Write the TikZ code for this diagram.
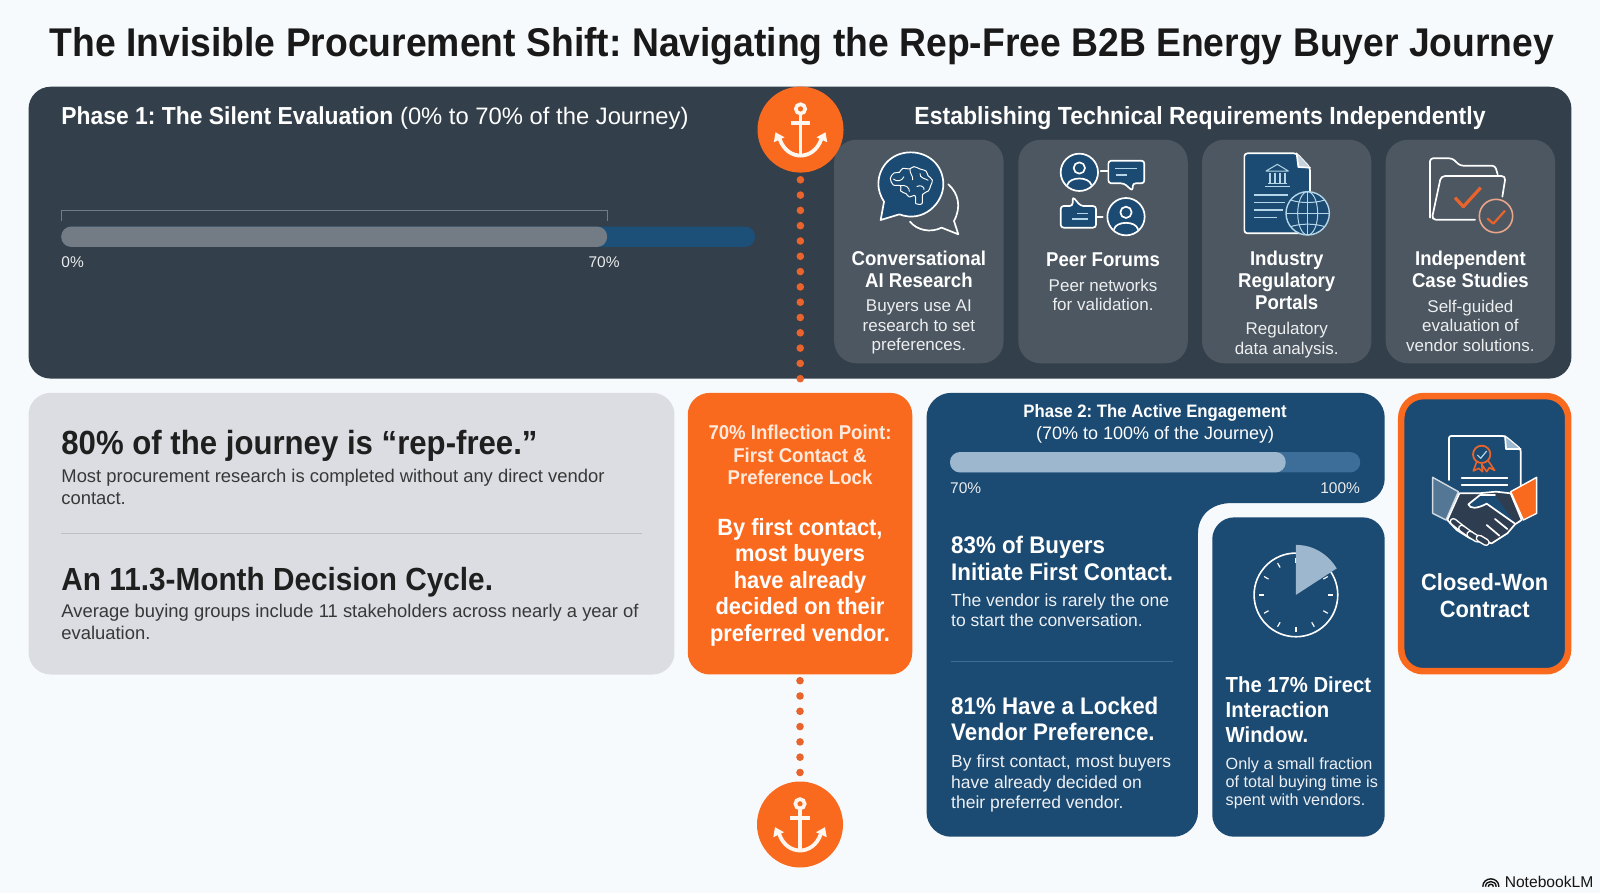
\documentclass[tikz,border=0pt]{standalone}
\usepackage{fontspec}
\setmainfont{Liberation Sans}[BoldFeatures={FakeStretch=0.93}]
\usepackage{tikz}
\usetikzlibrary{positioning}

\definecolor{pagebg}{HTML}{F7FAFC}
\definecolor{slatepanel}{HTML}{333F4A}
\definecolor{slatecard}{HTML}{4C5761}
\definecolor{navy}{HTML}{1B4A72}
\definecolor{barblue}{HTML}{1C5079}
\definecolor{bargrey}{HTML}{737C84}
\definecolor{greycard}{HTML}{DCDDE2}
\definecolor{flame}{HTML}{FA6A1E}
\definecolor{dotflame}{HTML}{E8642C}
\definecolor{barlight}{HTML}{9DB7CE}
\definecolor{bartrack}{HTML}{3C6E99}
\definecolor{iconsky}{HTML}{B4D6E8}
\definecolor{darkhand}{HTML}{2F3D50}
\definecolor{softflame}{HTML}{E9A58A}
\definecolor{cream}{HTML}{FFF7EF}

\newcommand{\fsz}[2]{\fontsize{#1}{#2}\selectfont}

\tikzset{
  panel/.style={rounded corners=22pt},
  txt/.style={inner sep=0pt, execute at begin node=\strut},
  headwhite/.style={txt, anchor=north west, align=left, text=white, font=\fsz{24}{26.5}\bfseries},
  subwhite/.style={txt, anchor=north west, align=left, text=white!92!navy, font=\fsz{17.5}{20.4}},
  cardhead/.style={txt, anchor=north, align=center, text=white, font=\fsz{20}{22}\bfseries},
  cardsub/.style={txt, anchor=north, align=center, text=white!90!slatecard, font=\fsz{17}{19.4}},
  bighead/.style={anchor=west, inner sep=0pt, text=black!88, font=\fsz{33.5}{40}\bfseries},
  bigsub/.style={txt, anchor=north west, align=left, text=black!78, font=\fsz{18.4}{22.4}},
  pct/.style={inner sep=0pt, text=white!90!slatepanel, font=\fsz{15.5}{18}},
  dotline/.style={dotflame, line width=7.6pt, line cap=round, dash pattern=on 0pt off 15.3pt},
  anchorcirc/.style={circle, fill=flame, inner sep=0pt, minimum size=86pt},
  zoomed/.style 2 args={xshift=#1pt, yshift=-#2pt, x=0.3333pt, y=-0.3333pt},
  iconline/.style={white, line width=1.7pt, line join=round, line cap=round},
  anchoricon/.pic={
    \begin{scope}[x=1pt,y=-1pt,cream]
      \draw[line width=3.6pt] (0,-20.7) circle (4.7);
      \draw[line width=3.4pt] (-9.7,-6.7) -- (9.7,-6.7);
      \draw[line width=3.8pt] (0,-15) -- (0,26);
      \draw[line width=3.8pt] (-21,9) .. controls (-17,21) and (-8,26) .. (0,26)
        .. controls (8,26) and (17,21) .. (21,9);
      \fill (-25,2.7) -- (-26.7,12.7) -- (-16,7.7) -- cycle;
      \fill (25,2.7) -- (26.7,12.7) -- (16,7.7) -- cycle;
    \end{scope}
  },
  personicon/.pic={
    \draw[iconline, fill=navy] (0,0) circle (56);
    \draw[iconline] (0,-13) circle (17);
    \draw[iconline] (-36,38) .. controls (-30,12) and (30,12) .. (36,38);
  }
}

\begin{document}
\frenchspacing
\begin{tikzpicture}[x=1.020408pt,y=-1.020408pt]
  \useasboundingbox (0,0) rectangle (1568,875.14);
  \fill[pagebg] (0,0) rectangle (1568,875.14);

  %title
  \node[inner sep=0pt, text=black!90, font=\fsz{40.1}{46}\bfseries] (title) at (786,45.5)
    {The Invisible Procurement Shift: Navigating the Rep-Free B2B Energy Buyer Journey};

  %phase 1
  \fill[slatepanel, panel] (28,85) rectangle (1540,371);
  \node[anchor=west, inner sep=0pt, text=white, font=\fsz{24.6}{28}] (phaseone) at (60,115.5)
    {\textbf{Phase 1: The Silent Evaluation} {\fsz{23.8}{28}(0\% to 70\% of the Journey)}};
  \node[inner sep=0pt, text=white, font=\fsz{24.8}{28}\bfseries] (techhead) at (1176,115.5)
    {Establishing Technical Requirements Independently};
  \fill[barblue, rounded corners=10pt] (60,222) rectangle (740,242);
  \fill[bargrey, rounded corners=10pt] (60,222) rectangle (595,242);
  \draw[bargrey, line width=1.2pt] (60,217) -- (60,206) -- (595,206) -- (595,217);
  \node[pct, anchor=west] (pctzero) at (60,257) {0\%};
  \node[pct] (pctseventy) at (592,257) {70\%};

  %cards
  \foreach \i/\x/\subtop/\head/\body in {
      1/900.5/294/{Conversational\\AI Research}/{Buyers use AI\\research to set\\preferences.},
      2/1081/273/{Peer Forums}/{Peer networks\\for validation.},
      3/1261/316/{Industry\\Regulatory\\Portals}/{Regulatory\\data analysis.},
      4/1441/294/{Independent\\Case Studies}/{Self-guided\\evaluation of\\vendor solutions.}}{
    \fill[slatecard, panel] (\x-83,137) rectangle (\x+83,356);
    \node[cardhead] (cardhead\i) at (\x,246) {\head};
    \node[cardsub] (cardsub\i) at (\x,\subtop) {\body};
  }

  %icon brain
  \begin{scope}[zoomed={860}{145}]
    \draw[iconline] (265,118) .. controls (295,145) and (305,185) .. (282,228) -- (295,268)
      -- (245,248) .. controls (210,265) and (170,255) .. (150,230);
    \draw[iconline, fill=navy] (72,170) -- (62,225) -- (118,208)
      .. controls (190,235) and (250,175) .. (250,118)
      .. controls (250,60) and (205,22) .. (152,22)
      .. controls (95,22) and (55,65) .. (55,118)
      .. controls (55,135) and (62,155) .. (72,170) -- cycle;
    \draw[white, line width=1pt, line join=round] plot[smooth, tension=.6] coordinates {
      (167,176) (165,152) (148,156) (138,146) (122,138) (122,122) (100,120) (91,100)
      (102,84) (118,82) (128,70) (148,72) (162,65) (180,72) (198,78) (204,92) (217,105)
      (212,122) (205,138) (188,148) (186,176) (167,176)};
    \draw[white, line width=.9pt] (100,102) .. controls (112,112) and (125,108) .. (132,95);
    \draw[white, line width=.9pt] (150,72) .. controls (148,85) and (160,92) .. (158,105);
    \draw[white, line width=.9pt] (180,85) .. controls (178,100) and (195,100) .. (205,106);
    \draw[white, line width=.9pt] (122,122) .. controls (135,118) and (150,128) .. (148,140);
    \draw[white, line width=.9pt] (170,125) .. controls (180,118) and (195,125) .. (192,135);
  \end{scope}

  %icon forums
  \begin{scope}[zoomed={1050}{145}]
    \pic at (88,82) {personicon};
    \pic at (228,215) {personicon};
    \draw[iconline] (152,78) -- (172,78);
    \draw[iconline] (142,215) -- (158,215);
    \draw[iconline, fill=navy, rounded corners=3pt] (175,47) -- (283,47) -- (283,115)
      -- (248,115) -- (248,138) -- (222,115) -- (175,115) -- cycle;
    \draw[iconline, fill=navy, rounded corners=3pt] (32,183) -- (68,183) -- (68,155)
      -- (92,183) -- (138,183) -- (138,248) -- (32,248) -- cycle;
    \draw[iconsky, line width=1.1pt] (195,70) -- (262,70) (197,90) -- (232,90);
    \draw[iconsky, line width=1.1pt] (82,205) -- (115,205) (65,222) -- (115,222);
  \end{scope}

  %icon portal
  \begin{scope}[zoomed={1235}{145}]
    \draw[iconline, fill=navy, rounded corners=3pt] (28,25) -- (185,25) -- (225,68)
      -- (225,265) -- (28,265) -- cycle;
    \fill[white!75!navy] (185,25) -- (190,66) -- (225,68) -- cycle;
    \draw[iconline] (185,25) -- (190,66) -- (225,68);
    \draw[iconsky, line width=1pt, line join=round] (93,78) -- (127,58) -- (160,78) -- cycle;
    \foreach \c in {105,120,135,150}
      \draw[iconsky, line width=1.2pt] (\c,85) -- (\c,114);
    \draw[iconsky, line width=1.2pt] (98,116) -- (155,116) (90,124) -- (165,124);
    \draw[iconsky, line width=1.2pt] (58,150) -- (160,150) (58,172) -- (150,172)
      (58,195) -- (145,195) (58,218) -- (125,218);
    \fill[navy] (218,205) circle (65);
    \draw[iconsky, line width=1.4pt] (218,205) circle (65);
    \draw[iconsky, line width=1pt] (218,205) ellipse (30 and 65);
    \draw[iconsky, line width=1pt] (218,140) -- (218,270) (153,205) -- (283,205);
    \draw[iconsky, line width=1pt] (167,165) .. controls (195,175) and (240,175) .. (269,165);
    \draw[iconsky, line width=1pt] (167,245) .. controls (195,235) and (240,235) .. (269,245);
  \end{scope}

  %icon folder
  \begin{scope}[zoomed={1415}{145}]
    \draw[iconline, rounded corners=3pt] (45,218) -- (45,40) -- (112,40) -- (135,62)
      -- (240,62) -- (248,88);
    \draw[iconline, rounded corners=4pt] (180,224) -- (50,224) -- (78,93) -- (272,93) -- (262,155);
    \draw[dotflame, line width=3.2pt, line join=round] (120,158) -- (145,185) -- (197,128);
    \draw[softflame, line width=1.6pt] (243,213) circle (50);
    \draw[dotflame, line width=2.2pt, line join=round] (217,220) -- (235,236) -- (270,197);
  \end{scope}

  %grey card
  \fill[greycard, panel] (28,385) rectangle (661,661);
  \node[bighead] (repfree) at (60,437) {80\% of the journey is “rep-free.”};
  \node[bigsub] (repfreesub) at (60,459.5)
    {Most procurement research is completed without any direct vendor\\contact.};
  \draw[black!25, line width=.8pt] (60,523) -- (629,523);
  \node[bighead, font=\fsz{32}{40}\bfseries] (cycle) at (60,570.5) {An 11.3-Month Decision Cycle.};
  \node[bigsub] (cyclesub) at (60,591.5)
    {Average buying groups include 11 stakeholders across nearly a year of\\evaluation.};

  %inflection
  \node[panel, fill=flame, inner sep=0pt, minimum width=224.5pt, minimum height=281.6pt] (inflect) at (784,523) {};
  \node[txt, anchor=north, align=center, text=white!85!flame, font=\fsz{20}{22.4}\bfseries] (inflecthead) at (784,416.5)
    {70\% Inflection Point:\\First Contact \&\\Preference Lock};
  \node[txt, anchor=north, align=center, text=white, font=\fsz{23.5}{26.5}\bfseries] (inflectbody) at (784,507.5)
    {By first contact,\\most buyers\\have already\\decided on their\\preferred vendor.};

  %phase 2
  \fill[navy] (932,385) -- (1333,385) .. controls (1346,385) and (1357,396) .. (1357,409)
    -- (1357,469) .. controls (1357,482) and (1346,493) .. (1333,493) -- (1207,493)
    .. controls (1187,493) and (1174,505) .. (1174,523) -- (1174,796)
    .. controls (1174,809) and (1163,820) .. (1150,820) -- (932,820)
    .. controls (919,820) and (908,809) .. (908,796) -- (908,409)
    .. controls (908,396) and (919,385) .. (932,385) -- cycle;
  \node[txt, anchor=north, align=center, text=white, font=\fsz{18}{21.4}] (phasetwo) at (1132,396.5)
    {\textbf{Phase 2: The Active Engagement}\\(70\% to 100\% of the Journey)};
  \fill[bartrack, rounded corners=10pt] (931,443) rectangle (1333,463);
  \fill[barlight, rounded corners=10pt] (931,443) rectangle (1260,463);
  \node[pct, anchor=west] (pctseventyb) at (931,478) {70\%};
  \node[pct, anchor=east] (pcthundred) at (1333,478) {100\%};
  \node[headwhite] (firstcontact) at (932,525.4) {83\% of Buyers\\Initiate First Contact.};
  \node[subwhite] (firstcontactsub) at (932,581.5) {The vendor is rarely the one\\to start the conversation.};
  \draw[bartrack, line width=.8pt] (932,648) -- (1150,648);
  \node[headwhite] (locked) at (932,682.6) {81\% Have a Locked\\Vendor Preference.};
  \node[subwhite] (lockedsub) at (932,740)
    {By first contact, most buyers\\have already decided on\\their preferred vendor.};

  %clock card
  \fill[navy, panel] (1188,507) rectangle (1357,820);
  \draw[white, line width=1.6pt] (1270,583) circle (41);
  \foreach \a in {0,30,...,330}
    \draw[white, line width=1.2pt, shift={(1270,583)}] (\a:31) -- (\a:36);
  \fill[barlight] (1270,583) -- (1270,534) .. controls (1288,534) and (1302,544) .. (1310,557) -- cycle;
  \node[headwhite, font=\fsz{21.8}{25}\bfseries] (window) at (1201,663) {The 17\% Direct\\Interaction\\Window.};
  \node[subwhite, font=\fsz{16.2}{18.4}] (windowsub) at (1201,742)
    {Only a small fraction\\of total buying time is\\spent with vendors.};

  %contract card
  \draw[navy, fill=navy, panel, draw=flame, line width=6.5pt] (1373.2,388.2) rectangle (1536.8,657.8);
  \begin{scope}[zoomed={1420}{425}]
    \draw[iconline, rounded corners=2pt] (87,165) -- (87,33) -- (255,33) -- (302,72) -- (302,185);
    \fill[barlight] (255,35) -- (258,72) -- (300,72) -- cycle;
    \draw[iconline] (255,33) -- (258,72) -- (302,72);
    \draw[dotflame, line width=1.6pt, line join=round] (170,110) -- (160,138) -- (176,130) -- (188,140) -- (185,118)
      -- (200,140) -- (208,128) -- (224,136) -- (205,108);
    \fill[navy] (185,88) circle (26);
    \draw[dotflame, line width=1.8pt] (185,88) circle (26);
    \draw[iconsky, line width=1.2pt, line join=round] (172,90) -- (182,100) -- (200,78);
    \draw[iconline] (125,160) -- (262,160) (125,180) -- (262,180);
    \draw[white!80!navy, line width=1.4pt, fill=white!25!navy, line join=round]
      (38,157) -- (115,200) -- (78,285) -- (38,265) -- cycle;
    \draw[white, line width=1.4pt, fill=flame, line join=round]
      (350,157) -- (272,200) -- (310,285) -- (350,265) -- cycle;
    \draw[iconline, fill=darkhand] (118,205) -- (175,205) -- (228,200) -- (272,205) -- (305,285)
      -- (285,298) -- (262,325) -- (215,355) -- (150,340) -- (110,315) -- (82,285) -- cycle;
    \draw[iconline, fill=navy] (225,210) -- (180,210) -- (145,238)
      .. controls (150,252) and (170,252) .. (200,236) -- (285,296);
    \foreach \a/\b/\c/\d in {100/290/125/310, 125/310/150/328, 150/328/172/342, 178/340/198/352}{
      \draw[white, line width=7.5pt, line cap=round] (\a,\b) -- (\c,\d);
      \draw[darkhand, line width=4.5pt, line cap=round] (\a,\b) -- (\c,\d);
    }
    \draw[iconline] (225,282) -- (262,312) (200,300) -- (238,332);
  \end{scope}
  \node[txt, anchor=north, align=center, text=white, font=\fsz{23.5}{26.5}\bfseries] (closedwon) at (1455,562)
    {Closed-Won\\Contract};

  %anchors
  \node[anchorcirc] (anchortop) at (784.5,127) {};
  \node[anchorcirc] (anchorbot) at (784,808) {};
  \pic at (anchortop) {anchoricon};
  \pic at (anchorbot) {anchoricon};
  \draw[dotline, shorten <=7pt, shorten >=8pt] (anchortop) -- (inflect);
  \draw[dotline, shorten <=6pt, shorten >=8pt] (inflect) -- (anchorbot);

  %logo
  \node[anchor=west, inner sep=0pt, text=black!92, font=\fsz{15.6}{18}] (logo) at (1474.5,864) {NotebookLM};
  \foreach \r in {2.5,5.2,7.9}
    \draw[black!92, line width=1.4pt] (1461-\r,869) .. controls (1461-\r,869-\r*1.3) and (1461+\r,869-\r*1.3) .. (1461+\r,869);
\end{tikzpicture}
\end{document}
